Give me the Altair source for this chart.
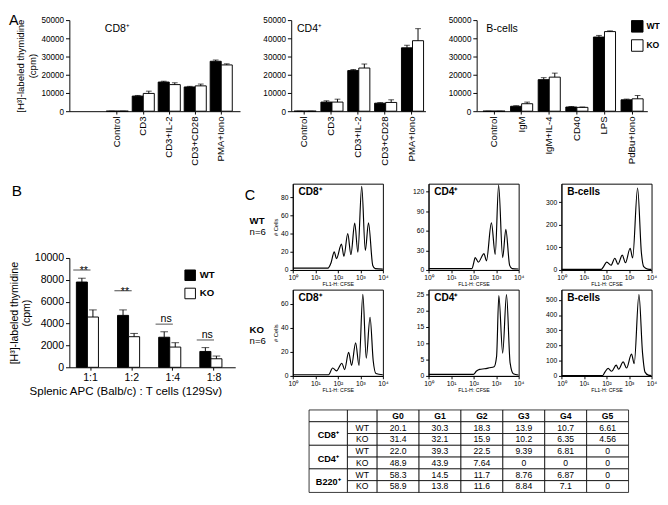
import altair as alt
import pandas as pd

FONT = "Liberation Sans"

# ---------------- Panel A: [H3]-thymidine (cpm) ----------------
t_cats = ["Control", "CD3", "CD3+IL-2", "CD3+CD28", "PMA+Iono"]
cd8_wt = [0, 8300, 16000, 13300, 27400]
cd8_wt_err = [0, 350, 450, 350, 700]
cd8_ko = [0, 9750, 14600, 13900, 25400]
cd8_ko_err = [0, 1250, 1000, 1000, 600]

cd4_wt = [0, 5000, 22300, 4400, 34800]
cd4_wt_err = [0, 700, 600, 300, 1400]
cd4_ko = [0, 5000, 23700, 4800, 38700]
cd4_ko_err = [0, 1600, 2200, 1450, 6600]

b_cats = ["Control", "IgM", "IgM+IL-4", "CD40", "LPS", "PdBu+Iono"]
bc_wt = [0, 2700, 17300, 2300, 40700, 6250]
bc_wt_err = [0, 300, 1100, 300, 900, 400]
bc_ko = [0, 4100, 18700, 2100, 43700, 6800]
bc_ko_err = [0, 900, 2200, 200, 400, 1800]

a_yticks = [0, 10000, 20000, 30000, 40000, 50000]

genotypes = ["WT", "KO"]
geno_fill = ["black", "white"]

# ---------------- Panel B: APC : T cell ratio ----------------
ratio_cats = ["1:1", "1:2", "1:4", "1:8"]
ratio_wt = [7800, 4750, 2750, 1450]
ratio_wt_err = [350, 500, 500, 350]
ratio_ko = [4600, 2800, 1850, 780]
ratio_ko_err = [650, 300, 400, 250]
sig_labels = ["**", "**", "ns", "ns"]
sig_level = [8900, 7000, 3950, 2500]
b_yticks = [0, 2000, 4000, 6000, 8000, 10000]

# ---------------- Panel C: CFSE histograms (log10 FL1-H, # cells) ----------------
cd8_wt_lx = [0.0, 1.56, 1.70, 1.84, 1.94, 2.16, 2.27, 2.44, 2.58, 2.75, 2.89, 3.06, 3.22, 3.36, 3.55, 3.66, 4.0]
cd8_wt_n = [2, 2, 8, 20, 12.5, 28.5, 15, 40, 17, 51.5, 19.5, 92, 21.5, 52, 5, 1.5, 1]
cd4_wt_lx = [0.0, 1.93, 2.0, 2.07, 2.21, 2.46, 2.57, 2.79, 2.96, 3.11, 3.29, 3.43, 3.6, 3.71, 4.0]
cd4_wt_n = [2, 2, 10, 19, 12, 25, 14, 72, 24, 130, 19, 62, 7, 2, 1.5]
bc_wt_lx = [0.0, 1.77, 1.87, 2.01, 2.2, 2.37, 2.51, 2.7, 2.84, 3.05, 3.16, 3.38, 3.55, 3.65, 3.83, 4.0]
bc_wt_n = [3, 3, 15, 35, 21, 52, 25, 66, 32, 96, 53, 363, 75, 15, 4, 3]
cd8_ko_lx = [0.0, 1.59, 1.77, 1.94, 2.18, 2.3, 2.48, 2.61, 2.79, 2.94, 3.11, 3.26, 3.43, 3.57, 3.69, 4.0]
cd8_ko_n = [1, 1, 6.6, 4.2, 10.6, 5.3, 19.6, 8.8, 27.6, 8.8, 68, 14.9, 49, 12.7, 2, 1]
cd4_ko_lx = [0.0, 1.99, 2.13, 2.27, 2.48, 2.7, 2.91, 3.02, 3.12, 3.29, 3.46, 3.62, 3.76, 4.0]
cd4_ko_n = [0.5, 0.5, 1.5, 2.0, 2.2, 2.5, 2.8, 6, 24.7, 7, 25, 4, 0.7, 0.3]
bc_ko_lx = [0.0, 1.83, 1.93, 2.07, 2.23, 2.43, 2.54, 2.74, 2.89, 3.11, 3.23, 3.44, 3.6, 3.71, 3.86, 4.0]
bc_ko_n = [3, 3, 25, 50, 31, 71, 44, 92, 52, 144, 81, 535, 150, 25, 5, 2]

# ---------------- Table: % of cells per generation ----------------
tbl_gens = ["G0", "G1", "G2", "G3", "G4", "G5"]
tbl_groups = ["CD8⁺", "CD4⁺", "B220⁺"]
tbl_genos = ["WT", "KO"]
cd8_wt_pct = ["20.1", "30.3", "18.3", "13.9", "10.7", "6.61"]
cd8_ko_pct = ["31.4", "32.1", "15.9", "10.2", "6.35", "4.56"]
cd4_wt_pct = ["22.0", "39.3", "22.5", "9.39", "6.81", "0"]
cd4_ko_pct = ["48.9", "43.9", "7.64", "0", "0", "0"]
b220_wt_pct = ["58.3", "14.5", "11.7", "8.76", "6.87", "0"]
b220_ko_pct = ["58.9", "13.8", "11.6", "8.84", "7.1", "0"]
tbl_values = [[cd8_wt_pct, cd8_ko_pct], [cd4_wt_pct, cd4_ko_pct], [b220_wt_pct, b220_ko_pct]]


def grouped(cats, wt, wte, ko, koe):
    rows = []
    for c, a, ae, b, be in zip(cats, wt, wte, ko, koe):
        rows.append({"cat": c, "geno": "WT", "value": a, "top": a + ae})
        rows.append({"cat": c, "geno": "KO", "value": b, "top": b + be})
    return pd.DataFrame(rows)


def text_df(s):
    return pd.DataFrame({"t": [s]})


def note(s, x, y, size, weight="normal", opacity=1):
    return alt.Chart(text_df(s)).mark_text(
        align="left", baseline="top", fontSize=size, fontWeight=weight, opacity=opacity
    ).encode(text="t:N", x=alt.value(x), y=alt.value(y))


def off_enc():
    return alt.XOffset("geno:N", sort=genotypes,
                       scale=alt.Scale(domain=genotypes, paddingInner=0, paddingOuter=0))


def a_panel(cats, wt, wte, ko, koe, name, width, pi, po, align, name_x, first, legend):
    df = grouped(cats, wt, wte, ko, koe)
    yscale = alt.Scale(domain=[0, 50000], nice=False)
    base = alt.Chart(df).encode(
        x=alt.X("cat:N", sort=cats, title=None,
                scale=alt.Scale(domain=cats, paddingInner=pi, paddingOuter=po, align=align),
                axis=alt.Axis(labelAngle=-90, labelFontSize=10, tickSize=3, labelPadding=2)),
        xOffset=off_enc(),
    )
    ytitle = ["[H³]-labeled thymidine", "(cpm)"] if first else None
    yaxis = alt.Axis(values=a_yticks, format="d", labelFontSize=8.5, tickSize=4,
                     labelPadding=2, titleFontSize=10, titlePadding=4)
    bars = base.mark_bar(stroke="black", strokeWidth=1).encode(
        y=alt.Y("value:Q", title=ytitle, scale=yscale, axis=yaxis),
        fill=alt.Fill("geno:N", scale=alt.Scale(domain=genotypes, range=geno_fill), legend=legend),
    )
    err = base.mark_rule(color="black", strokeWidth=1).encode(
        y=alt.Y("value:Q", title=ytitle, scale=yscale, axis=yaxis), y2="top:Q")
    cap = base.mark_tick(color="black", thickness=1, size=6).encode(
        y=alt.Y("top:Q", title=ytitle, scale=yscale, axis=yaxis))
    layers = [bars, err, cap, note(name, name_x, 3, 11)]
    if first:
        layers.append(note("A", -63, -7, 15))
    return alt.layer(*layers).properties(width=width, height=95)


a_legend = alt.Legend(title=None, orient="none", legendX=161, legendY=0, symbolType="square",
                      symbolSize=144, symbolStrokeColor="black", symbolStrokeWidth=1,
                      labelFontSize=9, labelFontWeight="bold", rowPadding=3, labelOffset=3)

chart_cd8 = a_panel(t_cats, cd8_wt, cd8_wt_err, cd8_ko, cd8_ko_err, "CD8⁺", 178, 0.15, 0.859, 0.826, 37, True, None)
chart_cd4 = a_panel(t_cats, cd4_wt, cd4_wt_err, cd4_ko, cd4_ko_err, "CD4⁺", 140, 0.22, 0.11, 0.48, 6, False, None)
chart_bc = a_panel(b_cats, bc_wt, bc_wt_err, bc_ko, bc_ko_err, "B-cells", 178, 0.2, 0.19, 0.6, 10, False, a_legend)

row_a = alt.hconcat(chart_cd8, chart_cd4, chart_bc, spacing=23.4).resolve_scale(fill="independent")


# ---------------- Panel B chart ----------------
def b_panel():
    df = grouped(ratio_cats, ratio_wt, ratio_wt_err, ratio_ko, ratio_ko_err)
    yscale = alt.Scale(domain=[0, 10000], nice=False)
    ytitle = ["[H³]-labeled thymidine", "(cpm)"]
    yaxis = alt.Axis(values=b_yticks, format="d", labelFontSize=11, tickSize=4,
                     labelPadding=2, titleFontSize=11, titlePadding=3)
    xenc = alt.X("cat:N", sort=ratio_cats, title="Splenic APC (Balb/c) : T cells (129Sv)",
                 scale=alt.Scale(domain=ratio_cats, paddingInner=0.31, paddingOuter=0.17),
                 axis=alt.Axis(labelAngle=0, labelFontSize=11, tickSize=3, labelPadding=2,
                               titleFontSize=12, titlePadding=3, titleX=-42, titleAlign="left"))
    base = alt.Chart(df).encode(x=xenc, xOffset=off_enc())
    legend = alt.Legend(title=None, orient="none", legendX=120, legendY=12, symbolType="square",
                        symbolSize=121, symbolStrokeColor="black", symbolStrokeWidth=1,
                        labelFontSize=10, labelFontWeight="bold", rowPadding=3, labelOffset=4)
    bars = base.mark_bar(stroke="black", strokeWidth=1).encode(
        y=alt.Y("value:Q", title=ytitle, scale=yscale, axis=yaxis),
        fill=alt.Fill("geno:N", scale=alt.Scale(domain=genotypes, range=geno_fill), legend=legend),
    )
    err = base.mark_rule(color="black", strokeWidth=1).encode(
        y=alt.Y("value:Q", title=ytitle, scale=yscale, axis=yaxis), y2="top:Q")
    cap = base.mark_tick(color="black", thickness=1, size=8).encode(
        y=alt.Y("top:Q", title=ytitle, scale=yscale, axis=yaxis))
    sig_df = pd.DataFrame({"cat": ratio_cats, "geno": ["WT"] * len(ratio_cats),
                           "label": sig_labels, "level": sig_level})
    sig_base = alt.Chart(sig_df).encode(
        x=alt.X("cat:N", sort=ratio_cats, scale=alt.Scale(domain=ratio_cats)),
        xOffset=off_enc(),
        y=alt.Y("level:Q", title=ytitle, scale=yscale, axis=yaxis),
    )
    line = sig_base.mark_tick(color="black", thickness=1, size=18)
    stars = sig_base.mark_text(baseline="alphabetic", fontSize=11, dy=4, dx=2).encode(
        text="label:N").transform_filter(alt.datum.label == "**")
    ns = sig_base.mark_text(baseline="alphabetic", fontSize=11, dy=-2, dx=2).encode(
        text="label:N").transform_filter(alt.datum.label == "ns")
    return alt.layer(bars, err, cap, line, stars, ns).properties(width=173, height=114)


b_letter = note("B", -60, 0, 16).properties(width=173, height=60)
chart_b = alt.vconcat(b_letter, b_panel(), spacing=11.5).resolve_scale(fill="independent")


# ---------------- Panel C histograms ----------------
def hist(lx, n, name, ymax, yticks, col, row):
    df = pd.DataFrame({"lx": lx, "n": n})
    yaxis = dict(values=yticks, labelFontSize=7, tickSize=3, labelPadding=2,
                 titleFontSize=6, titlePadding=2)
    if col == 1:
        yaxis["minExtent"] = 20
    line = alt.Chart(df).mark_line(color="black", strokeWidth=1.2, interpolate="monotone",
                                   clip=True).encode(
        x=alt.X("lx:Q", title="FL1-H: CFSE", scale=alt.Scale(domain=[0, 4], nice=False, zero=False),
                axis=alt.Axis(values=[0, 1, 2, 3, 4],
                              labelExpr="['10⁰','10¹','10²','10³','10⁴'][datum.value]",
                              labelFontSize=7, tickSize=3, labelPadding=1, titleFontSize=5.5,
                              titlePadding=1, labelFlush=False)),
        y=alt.Y("n:Q", title="# Cells" if col == 0 else None,
                scale=alt.Scale(domain=[0, ymax], nice=False), axis=alt.Axis(**yaxis)),
    )
    layers = [line, note(name, 6, 4, 10.5, "bold")]
    if col == 0:
        if row == 0:
            layers.append(note("C", -50, 5, 15))
        g = "WT" if row == 0 else "KO"
        layers.append(note(g, -45, 34 if row == 0 else 37, 10, "bold"))
        layers.append(note("n=6", -45, 46 if row == 0 else 49, 10))
    return alt.layer(*layers).properties(
        width=94, height=90, view=alt.ViewBackground(stroke="black", strokeWidth=1))


hists = alt.concat(
    hist(cd8_wt_lx, cd8_wt_n, "CD8⁺", 95, [0, 20, 40, 60, 80], 0, 0),
    hist(cd4_wt_lx, cd4_wt_n, "CD4⁺", 132, [0, 30, 60, 90, 120], 1, 0),
    hist(bc_wt_lx, bc_wt_n, "B-cells", 382, [0, 100, 200, 300], 2, 0),
    hist(cd8_ko_lx, cd8_ko_n, "CD8⁺", 72, [0, 20, 40, 60], 0, 1),
    hist(cd4_ko_lx, cd4_ko_n, "CD4⁺", 26.5, [0, 5, 10, 15, 20, 25], 1, 1),
    hist(bc_ko_lx, bc_ko_n, "B-cells", 567, [0, 100, 200, 300, 400, 500], 2, 1),
    columns=3, spacing={"row": 1.5, "column": 20.6},
)

# ---------------- table ----------------
col_w = [40, 31] + [43.7] * 6  # layout widths of table columns (px)
edges = [0.0]
for w in col_w:
    edges.append(edges[-1] + w)

cells = []


def add_cell(c0, c1, r0, r1, text, kind):
    cells.append({"x0": edges[c0], "x1": edges[c1], "r0": r0, "r1": r1,
                  "xm": (edges[c0] + edges[c1]) / 2, "rm": (r0 + r1) / 2,
                  "text": text, "kind": kind})


add_cell(0, 1, 0, 1, "", "plain")
add_cell(1, 2, 0, 1, "", "plain")
for j, gname in enumerate(tbl_gens):
    add_cell(2 + j, 3 + j, 0, 1, gname, "bold")
for gi, grp in enumerate(tbl_groups):
    r = 1 + 2 * gi
    add_cell(0, 1, r, r + 2, grp, "group")
    for k, geno in enumerate(tbl_genos):
        add_cell(1, 2, r + k, r + k + 1, geno, "plain")
        for j, v in enumerate(tbl_values[gi][k]):
            add_cell(2 + j, 3 + j, r + k, r + k + 1, v, "plain")

cells_df = pd.DataFrame(cells)
tx = alt.Scale(domain=[-17, 333.5], nice=False, zero=False)
ty = alt.Scale(domain=[0, 7], reverse=True, nice=False)
tbl_base = alt.Chart(cells_df)
rects = tbl_base.mark_rect(fill="white", stroke="black", strokeWidth=0.8).encode(
    x=alt.X("x0:Q", scale=tx, axis=None), x2="x1:Q",
    y=alt.Y("r0:Q", scale=ty, axis=None), y2="r1:Q")
txt_enc = dict(x=alt.X("xm:Q", scale=tx, axis=None), y=alt.Y("rm:Q", scale=ty, axis=None),
               text="text:N")
plain = tbl_base.mark_text(fontSize=9, baseline="middle").encode(**txt_enc).transform_filter(
    alt.datum.kind == "plain")
bold = tbl_base.mark_text(fontSize=9, fontWeight="bold", baseline="middle").encode(
    **txt_enc).transform_filter(alt.datum.kind == "bold")
group = tbl_base.mark_text(fontSize=9.5, fontWeight="bold", baseline="middle", dy=2).encode(
    **txt_enc).transform_filter(alt.datum.kind == "group")
table = alt.layer(rects, plain, bold, group).properties(width=350.5, height=86)

panel_c = alt.vconcat(hists, table, spacing=16)
row_2 = alt.hconcat(chart_b, panel_c, spacing=9).resolve_scale(fill="independent")

chart = alt.vconcat(row_a, row_2, spacing=17.6).resolve_scale(fill="independent").properties(
    padding={"left": 0, "top": -5, "right": 0, "bottom": 0}
).configure_view(stroke=None).configure_axis(
    labelFont=FONT, titleFont=FONT, labelColor="black", titleColor="black",
    domainColor="black", tickColor="black", grid=False, titleFontWeight="normal",
).configure_text(font=FONT, color="black").configure_legend(
    labelFont=FONT, labelColor="black")

chart.save("out.html", embed_options={"renderer": "svg", "actions": False})
